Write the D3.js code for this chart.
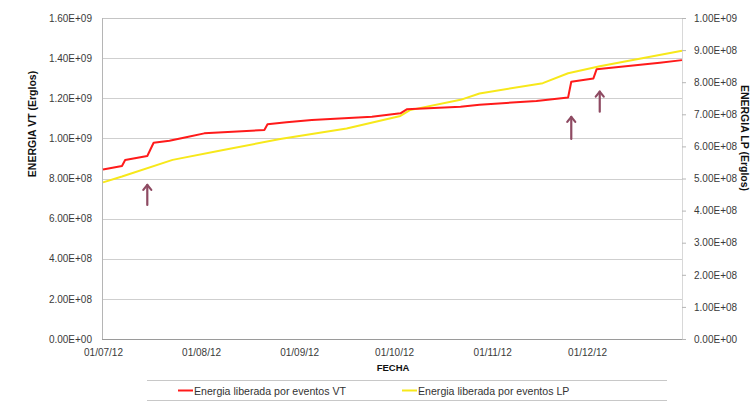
<!DOCTYPE html>
<html>
<head>
<meta charset="utf-8">
<script src="https://cdn.jsdelivr.net/npm/d3@7"></script>
<style>
  html, body { margin: 0; padding: 0; background: #fff; }
  svg { display: block; }
  .tick-label { font-family: "Liberation Sans Narrow", "Arial Narrow", "Liberation Sans", Arial, sans-serif; font-size: 10px; fill: #3a3a3a; }
  .axis-title { font-family: "Liberation Sans", Arial, sans-serif; font-weight: bold; fill: #111; }
  .legend-text { font-family: "Liberation Sans", Arial, sans-serif; font-size: 10.6px; fill: #333; }
</style>
</head>
<body>
<svg id="chart" width="753" height="406"></svg>
<script>
// Cumulative energy released by VT events (left axis)
const vtDates = ["2012-07-01","2012-07-07","2012-07-08","2012-07-15","2012-07-17","2012-07-22",
  "2012-07-28","2012-08-02","2012-08-21","2012-08-22","2012-08-28","2012-09-05","2012-09-24",
  "2012-10-03","2012-10-05","2012-10-22","2012-10-28","2012-11-15","2012-11-25","2012-11-26",
  "2012-12-03","2012-12-04","2012-12-24","2012-12-31"];
const vtValues = [8.45e8, 8.62e8, 8.92e8, 9.12e8, 9.78e8, 9.88e8,
  1.008e9, 1.025e9, 1.042e9, 1.070e9, 1.080e9, 1.092e9, 1.108e9,
  1.125e9, 1.145e9, 1.158e9, 1.168e9, 1.186e9, 1.204e9, 1.282e9,
  1.299e9, 1.344e9, 1.377e9, 1.390e9];

// Cumulative energy released by LP events (right axis)
const lpDates = ["2012-07-01","2012-07-07","2012-07-23","2012-08-08","2012-08-26","2012-09-16",
  "2012-10-03","2012-10-06","2012-10-22","2012-10-28","2012-11-17","2012-11-25","2012-12-05",
  "2012-12-31"];
const lpValues = [4.88e8, 5.06e8, 5.58e8, 5.89e8, 6.23e8, 6.56e8,
  6.95e8, 7.13e8, 7.45e8, 7.65e8, 7.97e8, 8.28e8, 8.50e8,
  8.98e8];

// Axis ticks
const leftTicks = [0, 2e8, 4e8, 6e8, 8e8, 1.0e9, 1.2e9, 1.4e9, 1.6e9];
const rightTicks = [0, 1e8, 2e8, 3e8, 4e8, 5e8, 6e8, 7e8, 8e8, 9e8, 1e9];
const xTicks = ["2012-07-01","2012-08-01","2012-09-01","2012-10-01","2012-11-01","2012-12-01"];
const xDomain = ["2012-07-01", "2012-12-31"];

// Arrows marking notable jumps (date, tail value, head value on the left axis)
const arrowDates = ["2012-07-15", "2012-11-26", "2012-12-05"];
const arrowTail = [6.68e8, 9.97e8, 1.133e9];
const arrowHead = [7.68e8, 1.107e9, 1.233e9];

// Legend
const seriesNames = ["Energia liberada por eventos VT", "Energia liberada por eventos LP"];
const seriesColors = ["#ff1a1a", "#f7e81a"];

const parse = d3.timeParse("%Y-%m-%d");
const svg = d3.select("#chart");

const plot = { left: 102, right: 682, top: 18, bottom: 339 };

const x = d3.scaleTime().domain(xDomain.map(parse)).range([plot.left + 1, plot.right]);
const yL = d3.scaleLinear().domain([0, 1.6e9]).range([plot.bottom, plot.top]);
const yR = d3.scaleLinear().domain([0, 1.0e9]).range([plot.bottom, plot.top]);

function sci(v) {
  if (v === 0) return "0.00E+00";
  const e = Math.floor(Math.log10(v) + 1e-9);
  const m = v / Math.pow(10, e);
  return m.toFixed(2) + "E+" + String(e).padStart(2, "0");
}

// Horizontal gridlines
svg.append("g").selectAll("line")
  .data(leftTicks.filter(t => t > 0 && t < 1.6e9))
  .join("line")
  .attr("x1", plot.left).attr("x2", plot.right)
  .attr("y1", d => Math.round(yL(d)) + 0.5).attr("y2", d => Math.round(yL(d)) + 0.5)
  .attr("stroke", "#cfcfcf").attr("stroke-width", 1);

// Plot frame
svg.append("line").attr("x1", plot.left).attr("x2", plot.right)
  .attr("y1", plot.top + 0.5).attr("y2", plot.top + 0.5).attr("stroke", "#c4c4c4");
svg.append("line").attr("x1", plot.left + 0.5).attr("x2", plot.left + 0.5)
  .attr("y1", plot.top).attr("y2", plot.bottom).attr("stroke", "#b5b5b5");
svg.append("line").attr("x1", plot.right + 0.5).attr("x2", plot.right + 0.5)
  .attr("y1", plot.top).attr("y2", plot.bottom).attr("stroke", "#d8d8d8");
svg.append("line").attr("x1", plot.left).attr("x2", plot.right)
  .attr("y1", plot.bottom + 0.5).attr("y2", plot.bottom + 0.5).attr("stroke", "#9a9a9a");

// Left axis
const leftAxis = d3.axisLeft(yL).tickValues(leftTicks).tickFormat(sci).tickSize(0).tickPadding(10);
const gL = svg.append("g").attr("transform", `translate(${plot.left},0)`).call(leftAxis);
gL.select(".domain").remove();
gL.selectAll("text").attr("class", "tick-label").attr("fill", null).attr("font-size", null).attr("font-family", null);

// Right axis
const rightAxis = d3.axisRight(yR).tickValues(rightTicks).tickFormat(sci).tickSize(4).tickPadding(8);
const gR = svg.append("g").attr("transform", `translate(${plot.right},0)`).call(rightAxis);
gR.select(".domain").remove();
gR.selectAll("line").attr("stroke", "#b5b5b5");
gR.selectAll("text").attr("class", "tick-label").attr("fill", null).attr("font-size", null).attr("font-family", null);

// Bottom axis
const bottomAxis = d3.axisBottom(x).tickValues(xTicks.map(parse))
  .tickFormat(d3.timeFormat("%d/%m/%y")).tickSize(0).tickPadding(10);
const gB = svg.append("g").attr("transform", `translate(0,${plot.bottom})`).call(bottomAxis);
gB.select(".domain").remove();
gB.selectAll("text").attr("class", "tick-label").attr("fill", null).attr("font-size", null).attr("font-family", null);

// Axis titles
svg.append("text").attr("class", "axis-title")
  .attr("transform", "translate(36,124) rotate(-90)")
  .attr("text-anchor", "middle").attr("font-size", 10.5)
  .text("ENERGIA VT (Erglos)");
svg.append("text").attr("class", "axis-title")
  .attr("transform", "translate(741,138) rotate(90)")
  .attr("text-anchor", "middle").attr("font-size", 10.5)
  .text("ENERGIA LP (Erglos)");
svg.append("text").attr("class", "axis-title")
  .attr("x", 393).attr("y", 371)
  .attr("text-anchor", "middle").attr("font-size", 9.5)
  .text("FECHA");

// Series lines
const vtData = vtDates.map((d, i) => ({ date: parse(d), value: vtValues[i] }));
const lpData = lpDates.map((d, i) => ({ date: parse(d), value: lpValues[i] }));

svg.append("path").datum(lpData)
  .attr("fill", "none").attr("stroke", seriesColors[1]).attr("stroke-width", 2)
  .attr("stroke-linejoin", "round")
  .attr("d", d3.line().x(d => x(d.date)).y(d => yR(d.value)));

svg.append("path").datum(vtData)
  .attr("fill", "none").attr("stroke", seriesColors[0]).attr("stroke-width", 2)
  .attr("stroke-linejoin", "round")
  .attr("d", d3.line().x(d => x(d.date)).y(d => yL(d.value)));

// Arrows
const arrowColor = "#8e4a62";
const gA = svg.append("g").attr("stroke", arrowColor).attr("stroke-width", 2.2)
  .attr("fill", "none").attr("stroke-linecap", "round").attr("stroke-linejoin", "round");
arrowDates.forEach((d, i) => {
  const ax = x(parse(d));
  const yTail = yL(arrowTail[i]);
  const yHead = yL(arrowHead[i]);
  gA.append("line").attr("x1", ax).attr("x2", ax).attr("y1", yTail).attr("y2", yHead);
  gA.append("path").attr("d", `M${ax - 4},${yHead + 5} L${ax},${yHead} L${ax + 4},${yHead + 5}`);
});

// Legend
const legend = svg.append("g");
legend.append("line").attr("x1", 147).attr("x2", 667).attr("y1", 380.5).attr("y2", 380.5).attr("stroke", "#c8c8c8");
legend.append("line").attr("x1", 147).attr("x2", 667).attr("y1", 400.5).attr("y2", 400.5).attr("stroke", "#c8c8c8");
const legendX = [178, 402];
seriesNames.forEach((name, i) => {
  legend.append("line").attr("x1", legendX[i]).attr("x2", legendX[i] + 15)
    .attr("y1", 390.5).attr("y2", 390.5).attr("stroke", seriesColors[i]).attr("stroke-width", 2);
  legend.append("text").attr("class", "legend-text")
    .attr("x", legendX[i] + 16).attr("y", 394.5).text(name);
});
</script>
</body>
</html>
